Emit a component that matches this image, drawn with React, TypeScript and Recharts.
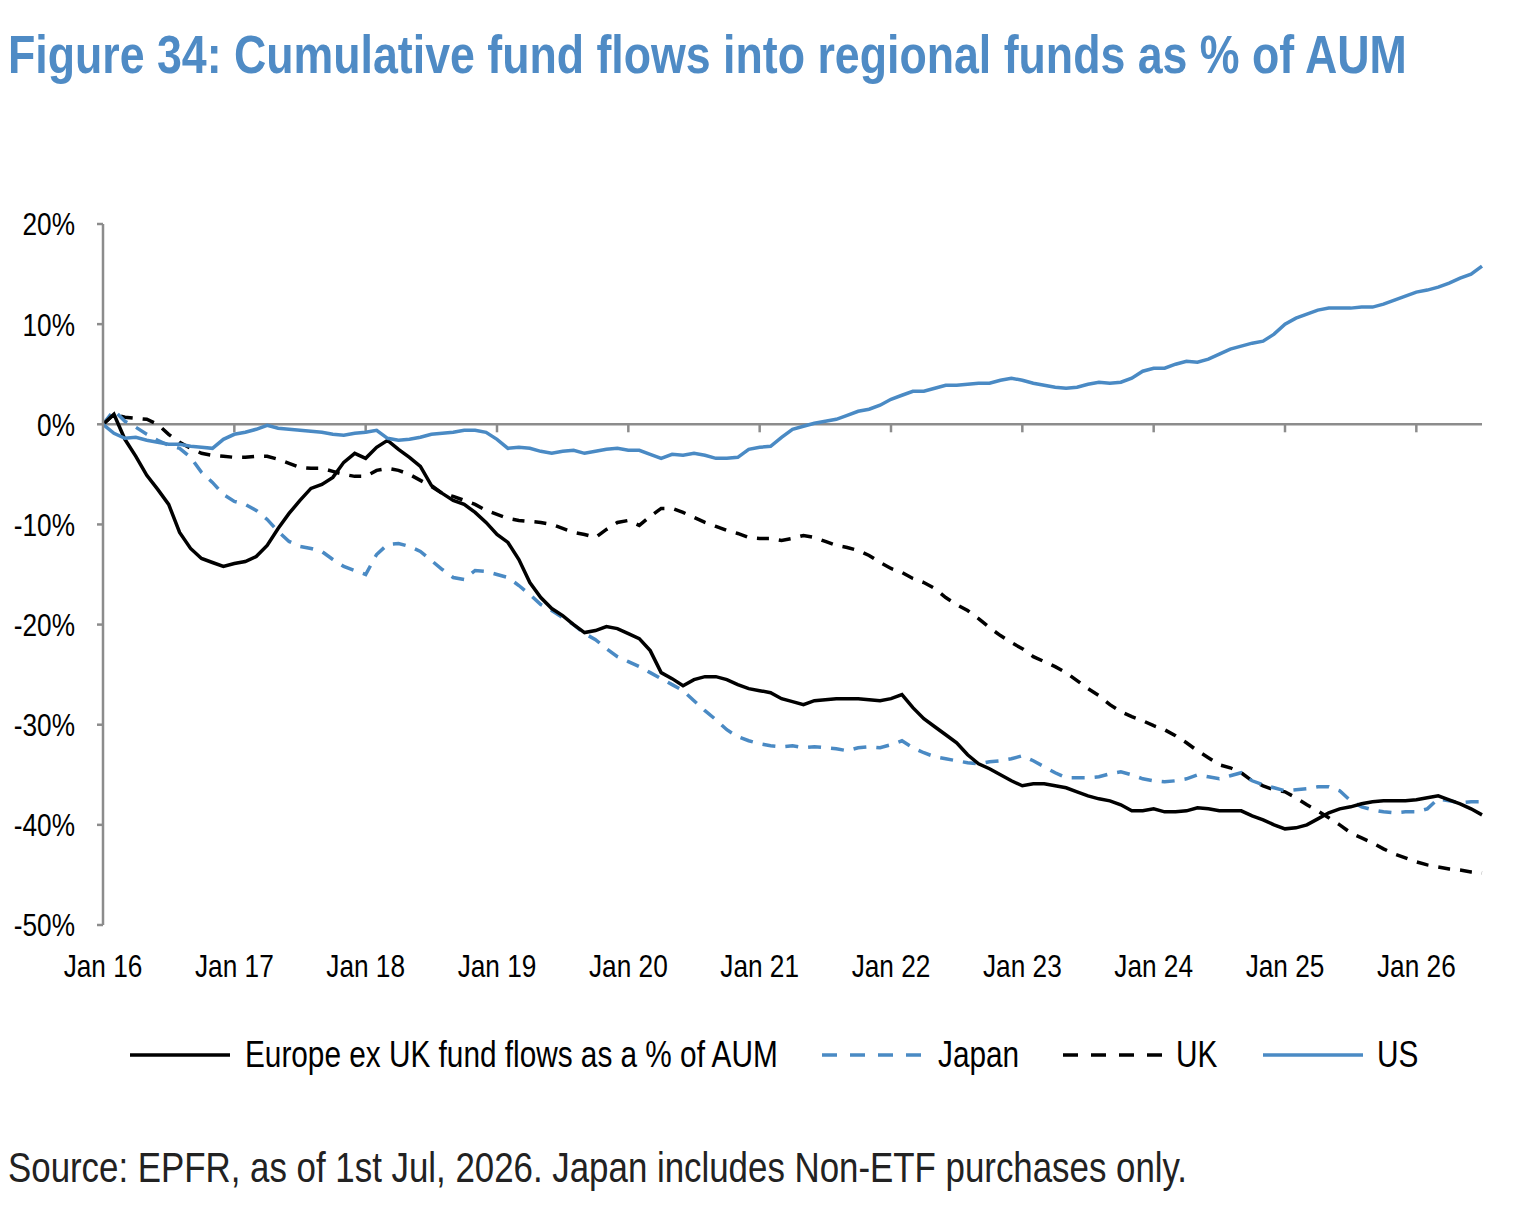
import { LineChart, Line, XAxis, YAxis, ReferenceLine } from "recharts"

const FONT = "'Liberation Sans', Arial, sans-serif"
const NARROW = 0.82
const BLUE = "#4A8AC4"

const monthNames = ["Jan", "Feb", "Mar", "Apr", "May", "Jun", "Jul", "Aug", "Sep", "Oct", "Nov", "Dec"]
// Jan 2016 .. Jul 2026, one point per month
const months = Array.from({ length: 127 }, (_, i) => `${monthNames[i % 12]} ${16 + Math.floor(i / 12)}`)
const xTicks = ["Jan 16", "Jan 17", "Jan 18", "Jan 19", "Jan 20", "Jan 21", "Jan 22", "Jan 23", "Jan 24", "Jan 25", "Jan 26"]
const yTicks = [-50, -40, -30, -20, -10, 0, 10, 20]

// cumulative flows, % of AUM
const europe = [
  0, 1.0, -1.5, -3.2, -5.1, -6.5, -8.0, -10.8, -12.4, -13.4, -13.8, -14.2,
  -13.9, -13.7, -13.2, -12.1, -10.4, -8.9, -7.6, -6.4, -6.0, -5.3, -3.8, -2.9,
  -3.4, -2.3, -1.6, -2.5, -3.3, -4.2, -6.1, -6.9, -7.6, -8.0, -8.8, -9.8,
  -11.0, -11.8, -13.5, -15.8, -17.3, -18.4, -19.1, -20.0, -20.8, -20.6, -20.2, -20.4,
  -20.9, -21.4, -22.6, -24.8, -25.4, -26.1, -25.5, -25.2, -25.2, -25.5, -26.0, -26.4,
  -26.6, -26.8, -27.4, -27.7, -28.0, -27.6, -27.5, -27.4, -27.4, -27.4, -27.5, -27.6,
  -27.4, -27.0, -28.3, -29.4, -30.2, -31.0, -31.8, -33.0, -33.9, -34.4, -35.0, -35.6,
  -36.1, -35.9, -35.9, -36.1, -36.3, -36.7, -37.1, -37.4, -37.6, -38.0, -38.6, -38.6,
  -38.4, -38.7, -38.7, -38.6, -38.3, -38.4, -38.6, -38.6, -38.6, -39.1, -39.5, -40.0,
  -40.4, -40.3, -40.0, -39.4, -38.8, -38.4, -38.2, -37.9, -37.7, -37.6, -37.6, -37.6,
  -37.5, -37.3, -37.1, -37.5, -37.9, -38.4, -39.0,
]

const japan = [
  0, 1.4, 0.3, -0.3, -1.0, -1.6, -2.1, -2.4, -3.3, -4.8, -5.8, -7.0,
  -7.7, -8.0, -8.6, -9.5, -10.7, -11.7, -12.2, -12.4, -12.7, -13.5, -14.2, -14.6,
  -15.0, -13.0, -12.0, -11.9, -12.2, -12.7, -13.6, -14.5, -15.3, -15.5, -14.6, -14.7,
  -15.0, -15.3, -16.1, -17.0, -18.0, -18.6, -19.3, -20.0, -20.9, -21.5, -22.4, -23.2,
  -23.7, -24.2, -24.8, -25.4, -26.0, -26.6, -27.6, -28.6, -29.5, -30.5, -31.2, -31.6,
  -31.9, -32.1, -32.2, -32.1, -32.3, -32.2, -32.3, -32.4, -32.6, -32.3, -32.2, -32.3,
  -32.0, -31.6, -32.3, -32.8, -33.2, -33.4, -33.6, -33.8, -33.9, -33.7, -33.6, -33.4,
  -33.1, -33.6, -34.2, -34.8, -35.3, -35.3, -35.3, -35.2, -34.9, -34.7, -35.0, -35.4,
  -35.6, -35.7, -35.6, -35.4, -35.0, -35.2, -35.4, -35.1, -34.8, -35.6, -36.0, -36.3,
  -36.6, -36.5, -36.4, -36.2, -36.2, -36.6, -37.6, -38.2, -38.5, -38.7, -38.8, -38.7,
  -38.7, -38.4, -37.4, -37.6, -37.8, -37.7, -37.7,
]

const uk = [
  0, 1.0, 0.7, 0.6, 0.5, 0.0, -1.0, -1.8, -2.4, -2.9, -3.1, -3.2,
  -3.3, -3.3, -3.2, -3.2, -3.5, -3.9, -4.3, -4.4, -4.4, -4.7, -5.0, -5.2,
  -5.2, -4.6, -4.4, -4.6, -5.0, -5.6, -6.2, -6.9, -7.2, -7.6, -8.0, -8.6,
  -9.0, -9.4, -9.6, -9.7, -9.8, -10.0, -10.4, -10.8, -11.0, -11.3, -10.5, -9.8,
  -9.6, -10.1, -9.2, -8.4, -8.4, -8.8, -9.3, -9.8, -10.2, -10.6, -10.9, -11.3,
  -11.4, -11.4, -11.6, -11.4, -11.1, -11.3, -11.7, -12.1, -12.3, -12.6, -13.1, -13.8,
  -14.4, -14.8, -15.4, -15.8, -16.4, -17.3, -18.0, -18.6, -19.4, -20.3, -21.1, -21.8,
  -22.4, -23.2, -23.7, -24.2, -24.8, -25.6, -26.4, -27.1, -28.0, -28.7, -29.2, -29.6,
  -30.1, -30.5, -31.1, -31.8, -32.6, -33.3, -34.0, -34.3, -34.8, -35.6, -36.1, -36.5,
  -36.7, -37.3, -38.0, -38.6, -39.3, -40.0, -40.8, -41.3, -41.8, -42.4, -42.9, -43.3,
  -43.7, -44.0, -44.2, -44.4, -44.5, -44.7, -44.8,
]

const us = [
  0, -0.9, -1.4, -1.3, -1.6, -1.8, -2.0, -2.0, -2.2, -2.3, -2.4, -1.5,
  -1.0, -0.8, -0.5, -0.1, -0.4, -0.5, -0.6, -0.7, -0.8, -1.0, -1.1, -0.9,
  -0.8, -0.6, -1.4, -1.6, -1.5, -1.3, -1.0, -0.9, -0.8, -0.6, -0.6, -0.8,
  -1.5, -2.4, -2.3, -2.4, -2.7, -2.9, -2.7, -2.6, -2.9, -2.7, -2.5, -2.4,
  -2.6, -2.6, -3.0, -3.4, -3.0, -3.1, -2.9, -3.1, -3.4, -3.4, -3.3, -2.5,
  -2.3, -2.2, -1.3, -0.5, -0.2, 0.1, 0.3, 0.5, 0.9, 1.3, 1.5, 1.9,
  2.5, 2.9, 3.3, 3.3, 3.6, 3.9, 3.9, 4.0, 4.1, 4.1, 4.4, 4.6,
  4.4, 4.1, 3.9, 3.7, 3.6, 3.7, 4.0, 4.2, 4.1, 4.2, 4.6, 5.3,
  5.6, 5.6, 6.0, 6.3, 6.2, 6.5, 7.0, 7.5, 7.8, 8.1, 8.3, 9.0,
  10.0, 10.6, 11.0, 11.4, 11.6, 11.6, 11.6, 11.7, 11.7, 12.0, 12.4, 12.8,
  13.2, 13.4, 13.7, 14.1, 14.6, 15.0, 15.8,
]

const data = months.map((month, i) => ({
  month,
  europe: europe[i],
  japan: japan[i],
  uk: uk[i],
  us: us[i],
}))

const legendItems = [
  { label: "Europe ex UK fund flows as a % of AUM", color: "#000", dash: undefined, x: 130, textX: 245 },
  { label: "Japan", color: BLUE, dash: "15 13", x: 822, textX: 938 },
  { label: "UK", color: "#000", dash: "15 13", x: 1063, textX: 1176 },
  { label: "US", color: BLUE, dash: undefined, x: 1263, textX: 1377 },
]

// the reference uses a condensed face; squeeze Liberation Sans to match
function NarrowTick(props: any) {
  const { x, y, payload, textAnchor, isY } = props
  const label = isY ? `${payload.value}%` : payload.value
  return (
    <text
      transform={`translate(${x},${y}) scale(${NARROW},1)`}
      textAnchor={textAnchor}
      dy={isY ? "0.355em" : "0.71em"}
      fill="#000"
      fontSize={32}
      fontFamily={FONT}
    >
      {label}
    </text>
  )
}

const narrowText = { transform: `scaleX(${NARROW})`, transformOrigin: "left center", whiteSpace: "nowrap" as const }

export default function App() {
  return (
    <div style={{ position: "absolute", left: 0, top: 0, width: 1536, height: 1218, background: "#fff", fontFamily: FONT }}>
      <div style={{ ...narrowText, position: "absolute", left: 8, top: 23, fontSize: 54.5, fontWeight: "bold", color: "#4F8BC5", lineHeight: "64px" }}>
        Figure 34: Cumulative fund flows into regional funds as % of AUM
      </div>

      <div style={{ position: "absolute", left: 0, top: 0 }}>
        <LineChart width={1528} height={1010} data={data} margin={{ top: 224, right: 46, bottom: 25, left: 8 }}>
          <XAxis
            dataKey="month"
            ticks={xTicks}
            interval={0}
            axisLine={false}
            tickLine={false}
            tickMargin={23}
            height={60}
            tick={<NarrowTick />}
          />
          <YAxis
            domain={[-50, 20]}
            ticks={yTicks}
            width={95}
            axisLine={{ stroke: "#8C8C8C", strokeWidth: 2.5 }}
            tickLine={{ stroke: "#8C8C8C", strokeWidth: 2.5 }}
            tickSize={6}
            tickMargin={22}
            tick={<NarrowTick isY />}
          />
          <ReferenceLine y={0} stroke="#8C8C8C" strokeWidth={2.5} />
          {xTicks.slice(1).map((t) => (
            <ReferenceLine
              key={t}
              segment={[{ x: t, y: 0 }, { x: t, y: -0.8 }]}
              stroke="#8C8C8C"
              strokeWidth={2.5}
            />
          ))}
          <Line dataKey="uk" stroke="#000" strokeWidth={3.5} strokeDasharray="12 10" dot={false} isAnimationActive={false} />
          <Line dataKey="japan" stroke={BLUE} strokeWidth={3.5} strokeDasharray="13 10" dot={false} isAnimationActive={false} />
          <Line dataKey="europe" stroke="#000" strokeWidth={3.5} dot={false} isAnimationActive={false} />
          <Line dataKey="us" stroke={BLUE} strokeWidth={3.5} dot={false} isAnimationActive={false} />
        </LineChart>
      </div>

      {legendItems.map((item) => (
        <div key={item.label}>
          <svg width={100} height={10} style={{ position: "absolute", left: item.x, top: 1050 }}>
            <line x1={0} y1={5} x2={100} y2={5} stroke={item.color} strokeWidth={3.5} strokeDasharray={item.dash} />
          </svg>
          <div style={{ ...narrowText, position: "absolute", left: item.textX, top: 1033, height: 44, lineHeight: "44px", fontSize: 36.3, color: "#000" }}>
            {item.label}
          </div>
        </div>
      ))}

      <div style={{ ...narrowText, position: "absolute", left: 8, top: 1143, lineHeight: "50px", fontSize: 42.5, color: "#222" }}>
        Source: EPFR, as of 1st Jul, 2026. Japan includes Non-ETF purchases only.
      </div>
    </div>
  )
}
